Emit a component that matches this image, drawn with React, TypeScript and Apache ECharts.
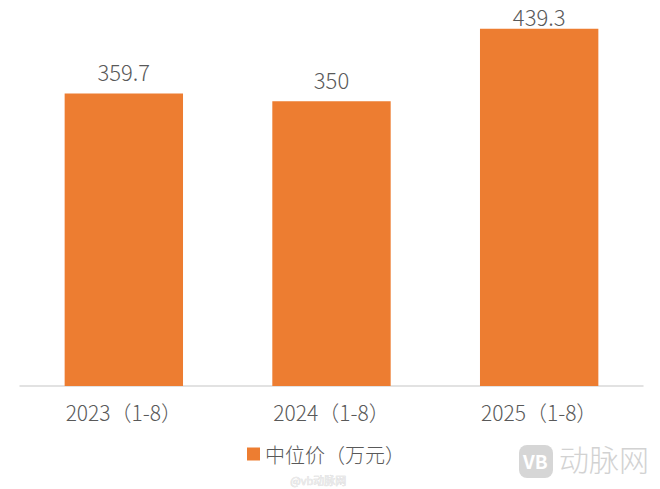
import { useEffect, useRef } from "react";
import * as echarts from "echarts";

const categories = ["2023（1-8）", "2024（1-8）", "2025（1-8）"];
const medianPrice = [359.7, 350, 439.3];
const seriesName = "中位价（万元）";

const FONT = '"Noto Sans CJK SC", "Noto Sans", sans-serif';

const App = () => {
  const chartRef = useRef<HTMLDivElement>(null);

  useEffect(() => {
    if (!chartRef.current) return;
    const chart = echarts.init(chartRef.current, null, { renderer: "svg" });

    const option: echarts.EChartsOption = {
      animation: false,
      backgroundColor: "#fff",
      grid: { left: 20, right: 17, top: 20, bottom: 103 },
      legend: {
        data: [seriesName],
        left: 247,
        top: 444,
        padding: 0,
        icon: "rect",
        itemWidth: 13,
        itemHeight: 13,
        itemGap: 0,
        textStyle: {
          fontFamily: FONT,
          fontSize: 20,
          lineHeight: 20,
          color: "#595959",
          fontWeight: 300,
        },
      },
      xAxis: {
        type: "category",
        data: categories,
        axisLine: { lineStyle: { color: "#d9d9d9", width: 1.5 } },
        axisTick: { show: false },
        axisLabel: {
          margin: 15,
          fontFamily: FONT,
          fontSize: 21,
          fontWeight: 300,
          color: "#595959",
        },
      },
      yAxis: {
        type: "value",
        min: 0,
        max: 450,
        show: false,
      },
      series: [
        {
          name: seriesName,
          type: "bar",
          barCategoryGap: "43%",
          itemStyle: { color: "#ed7d31" },
          label: {
            show: true,
            position: "top",
            distance: 11,
            fontFamily: FONT,
            fontSize: 22,
            fontWeight: 300,
            color: "#595959",
          },
          data: medianPrice.map((v, i) =>
            i === medianPrice.length - 1 ? { value: v, label: { distance: 2 } } : v
          ),
        },
      ],
      graphic: [
        {
          type: "text",
          left: 290,
          top: 474,
          style: {
            text: "@vb动脉网",
            fontFamily: FONT,
            fontSize: 11,
            fill: "#ececec",
            stroke: "#d4d4d4",
            lineWidth: 0.5,
          },
        },
        {
          type: "rect",
          left: 519,
          top: 445,
          shape: { width: 34, height: 33, r: 8 },
          style: { fill: "#d6d6d6" },
        },
        {
          type: "text",
          left: 523,
          top: 451,
          style: {
            text: "VB",
            fontFamily: FONT,
            fontSize: 19,
            fontWeight: "bold",
            fill: "#ffffff",
          },
        },
        {
          type: "text",
          left: 559,
          top: 443,
          style: {
            text: "动脉网",
            fontFamily: FONT,
            fontSize: 30,
            fontWeight: 300,
            fill: "#d2d2d2",
          },
        },
      ],
    };

    chart.setOption(option);
    return () => {
      chart.dispose();
    };
  }, []);

  return (
    <div
      ref={chartRef}
      style={{ position: "absolute", left: 0, top: 0, width: 660, height: 489 }}
    />
  );
};

export default App;
